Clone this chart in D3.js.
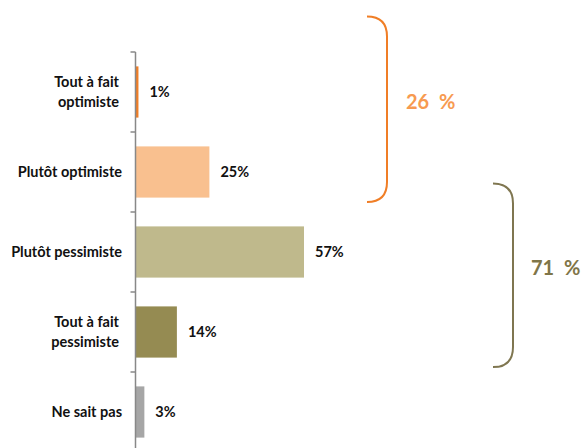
<!DOCTYPE html>
<html>
<head>
<meta charset="utf-8">
<script src="https://cdn.jsdelivr.net/npm/d3@7"></script>
<style>
  body { margin: 0; background: #fff; }
  text { font-family: Lato, "Open Sans", sans-serif; font-weight: bold; }
</style>
</head>
<body>
<div id="chart"></div>
<script>
var categories = ["Tout à fait optimiste", "Plutôt optimiste", "Plutôt pessimiste", "Tout à fait pessimiste", "Ne sait pas"];
var labelLines = [["Tout à fait", "optimiste"], ["Plutôt optimiste"], ["Plutôt pessimiste"], ["Tout à fait", "pessimiste"], ["Ne sait pas"]];
var values = [1, 25, 57, 14, 3];
var barColors = ["#F07E26", "#F9C08F", "#BFB98C", "#958B52", "#A6A6A6"];
var groups = [
    { members: [0, 1], color: "#F07E26", textColor: "#F79A50" },
    { members: [2, 3], color: "#7F7650", textColor: "#7F7548" }
];

var width = 586, height = 448;

var svg = d3.select("#chart").append("svg")
    .attr("width", width)
    .attr("height", height);

// scales
var yScale = d3.scaleBand()
    .domain(categories)
    .range([52, 452])
    .paddingInner(0.36)
    .paddingOuter(0.18);

var xScale = d3.scaleLinear()
    .domain([0, 57])
    .range([135.5, 304]);

// bars
svg.selectAll(".bar")
    .data(values)
    .enter().append("rect")
    .attr("class", "bar")
    .attr("x", xScale(0))
    .attr("y", function (d, i) { return yScale(categories[i]); })
    .attr("width", function (d) { return xScale(d) - xScale(0); })
    .attr("height", yScale.bandwidth())
    .attr("fill", function (d, i) { return barColors[i]; });

// axis line + ticks at band boundaries
var axisX = xScale(0);
svg.append("line")
    .attr("x1", axisX).attr("x2", axisX)
    .attr("y1", yScale.range()[0]).attr("y2", yScale.range()[1])
    .attr("stroke", "#888").attr("stroke-width", 1.5);

d3.range(categories.length + 1).forEach(function (i) {
    var ty = yScale.range()[0] + i * yScale.step();
    svg.append("line")
        .attr("x1", axisX - 5).attr("x2", axisX)
        .attr("y1", ty).attr("y2", ty)
        .attr("stroke", "#888").attr("stroke-width", 1.5);
});

// category labels
svg.selectAll(".cat")
    .data(labelLines)
    .enter().append("text")
    .attr("class", "cat")
    .attr("text-anchor", "end")
    .attr("font-size", 14.5)
    .attr("fill", "#111")
    .each(function (lines, i) {
        var cy = yScale(categories[i]) + yScale.bandwidth() / 2;
        var t = d3.select(this);
        lines.forEach(function (s, k) {
            t.append("tspan")
                .attr("x", lines.length > 1 ? 119 : 122)
                .attr("y", cy + (k - (lines.length - 1) / 2) * 20)
                .attr("dy", "0.35em")
                .text(s);
        });
    });

// value labels
svg.selectAll(".val")
    .data(values)
    .enter().append("text")
    .attr("class", "val")
    .attr("x", function (d) { return xScale(d) + 11; })
    .attr("y", function (d, i) { return yScale(categories[i]) + yScale.bandwidth() / 2; })
    .attr("dy", "0.35em")
    .attr("font-size", 14.5)
    .attr("fill", "#111")
    .text(function (d) { return d + "%"; });

// brackets with group totals
var bracketPos = [
    { x0: 367, x1: 387, top: yScale(categories[0]) - 50, bottom: yScale(categories[1]) + yScale.bandwidth() + 4.5, tx: 406 },
    { x0: 493, x1: 513, top: yScale(categories[2]) - 43, bottom: yScale(categories[3]) + yScale.bandwidth() + 9.5, tx: 531 }
];

groups.forEach(function (g, i) {
    var b = bracketPos[i], r = 20;
    var p = d3.path();
    p.moveTo(b.x0, b.top);
    p.quadraticCurveTo(b.x1, b.top, b.x1, b.top + r);
    p.lineTo(b.x1, b.bottom - r);
    p.quadraticCurveTo(b.x1, b.bottom, b.x0, b.bottom);
    svg.append("path")
        .attr("d", p.toString())
        .attr("fill", "none")
        .attr("stroke", g.color)
        .attr("stroke-width", 2);

    var total = d3.sum(g.members, function (m) { return values[m]; });
    svg.append("text")
        .attr("x", b.tx)
        .attr("y", (b.top + b.bottom) / 2 - 7)
        .attr("dy", "0.35em")
        .attr("font-size", 20)
        .attr("fill", g.textColor)
        .attr("xml:space", "preserve")
        .text(total + "  %");
});
</script>
</body>
</html>
